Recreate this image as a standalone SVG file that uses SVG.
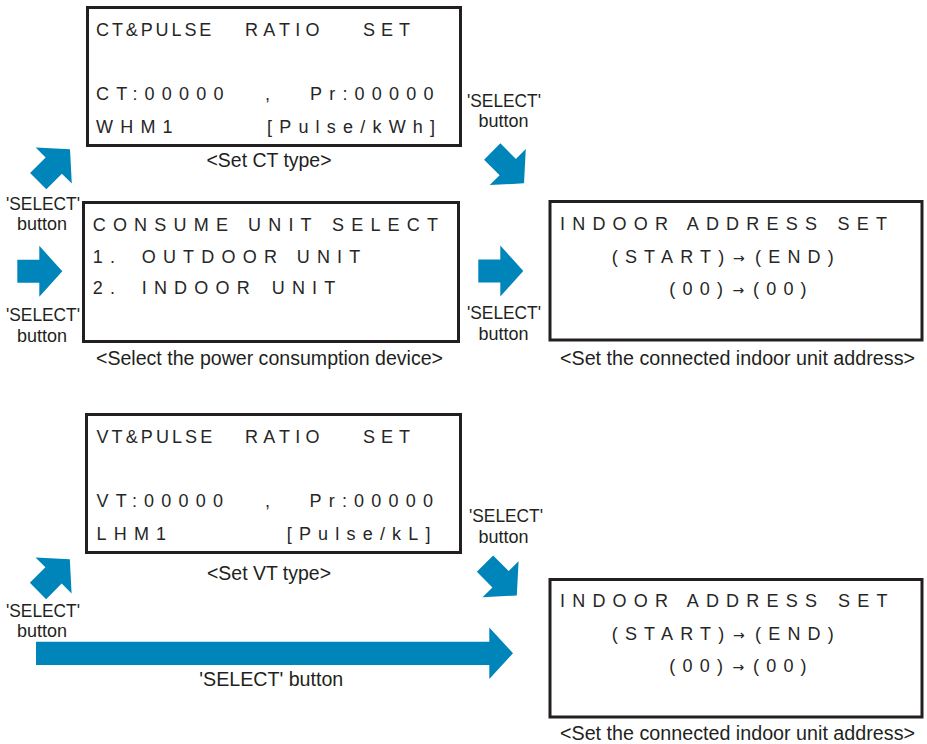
<svg xmlns="http://www.w3.org/2000/svg" xmlns:xlink="http://www.w3.org/1999/xlink" width="927" height="744" viewBox="0 0 927 744">
<style>
.box{fill:#fff;stroke:#231f20;stroke-width:3}
.lcd{font-family:"Liberation Sans",Arial,sans-serif;font-size:18px;fill:#262626;letter-spacing:7.2px}
.ar{font-family:"DejaVu Sans",sans-serif;font-size:14px;letter-spacing:0}
.lbl{font-family:"Liberation Sans",Arial,sans-serif;font-size:19px;fill:#231f20}
.cap{font-family:"Liberation Sans",Arial,sans-serif;font-size:20px;fill:#231f20}
.blue{fill:#0085ba}
</style>
<defs>
<path id="arr" d="M0,-11.5H22V-25.5L45,0L22,25.5V11.5H0Z"/>
</defs>
<rect width="927" height="744" fill="#fff"/>

<g id="ct-set">
<rect class="box" x="87.5" y="7.5" width="373" height="138"/>
<text class="lcd" y="35.7"><tspan x="96" style="letter-spacing:2.9px">CT&amp;PULSE</tspan> <tspan x="245" style="letter-spacing:5.2px">RATIO</tspan> <tspan x="363" style="letter-spacing:6px">SET</tspan></text>
<text class="lcd" y="100"><tspan x="96">CT:00000</tspan> <tspan x="265">,</tspan> <tspan x="310">Pr:00000</tspan></text>
<text class="lcd" y="133"><tspan x="96">WHM1</tspan> <tspan x="267">[Pulse/kWh]</tspan></text>
<text class="cap" x="206.5" y="167" textLength="125" lengthAdjust="spacingAndGlyphs">&lt;Set CT type&gt;</text>
</g>

<g id="consume-select">
<rect class="box" x="83.5" y="202.5" width="375" height="139"/>
<text class="lcd" y="231"><tspan x="92.7">CONSUME</tspan> <tspan x="248">UNIT</tspan> <tspan x="332">SELECT</tspan></text>
<text class="lcd" y="262.7"><tspan x="92.7">1.</tspan> <tspan x="141.7">OUTDOOR</tspan> <tspan x="296.7">UNIT</tspan></text>
<text class="lcd" y="294.3"><tspan x="92.7">2.</tspan> <tspan x="141.7">INDOOR</tspan> <tspan x="271.7">UNIT</tspan></text>
<text class="cap" x="96" y="365" textLength="347" lengthAdjust="spacingAndGlyphs">&lt;Select the power consumption device&gt;</text>
</g>

<g id="indoor-address-1">
<rect class="box" x="550" y="201.5" width="372" height="138.5"/>
<text class="lcd" y="230"><tspan x="560">INDOOR</tspan> <tspan x="686.7">ADDRESS</tspan> <tspan x="837.5">SET</tspan></text>
<text class="lcd" y="262.7"><tspan x="611.7">(START)</tspan><tspan x="733" class="ar">→</tspan><tspan x="755">(END)</tspan></text>
<text class="lcd" y="295"><tspan x="669.3">(00)</tspan><tspan x="732.5" class="ar">→</tspan><tspan x="753">(00)</tspan></text>
<text class="cap" x="560" y="365" textLength="355" lengthAdjust="spacingAndGlyphs">&lt;Set the connected indoor unit address&gt;</text>
</g>

<g id="vt-set">
<rect class="box" x="86.5" y="414.5" width="374" height="138"/>
<text class="lcd" y="443.3"><tspan x="96.5" style="letter-spacing:3.1px">VT&amp;PULSE</tspan> <tspan x="245" style="letter-spacing:5.2px">RATIO</tspan> <tspan x="363" style="letter-spacing:6px">SET</tspan></text>
<text class="lcd" y="507.3"><tspan x="96.5">VT:00000</tspan> <tspan x="265">,</tspan> <tspan x="309.5">Pr:00000</tspan></text>
<text class="lcd" y="540"><tspan x="96.5">LHM1</tspan> <tspan x="286.7">[Pulse/kL]</tspan></text>
<text class="cap" x="207" y="579.5" textLength="124" lengthAdjust="spacingAndGlyphs">&lt;Set VT type&gt;</text>
</g>

<g id="indoor-address-2">
<rect class="box" x="550" y="579.5" width="372" height="137.5"/>
<text class="lcd" y="606.7"><tspan x="560">INDOOR</tspan> <tspan x="686.7">ADDRESS</tspan> <tspan x="838">SET</tspan></text>
<text class="lcd" y="640"><tspan x="611.7">(START)</tspan><tspan x="733" class="ar">→</tspan><tspan x="755">(END)</tspan></text>
<text class="lcd" y="671.7"><tspan x="669.3">(00)</tspan><tspan x="732.5" class="ar">→</tspan><tspan x="753">(00)</tspan></text>
<text class="cap" x="560" y="740" textLength="355" lengthAdjust="spacingAndGlyphs">&lt;Set the connected indoor unit address&gt;</text>
</g>

<g id="connectors">
<use xlink:href="#arr" class="blue" transform="translate(38.2,181.1) rotate(-45)"/>
<use xlink:href="#arr" class="blue" transform="translate(17.3,271.3)"/>
<use xlink:href="#arr" class="blue" transform="translate(492.2,151.5) rotate(45)"/>
<use xlink:href="#arr" class="blue" transform="translate(478.3,271)"/>
<use xlink:href="#arr" class="blue" transform="translate(38,591) rotate(-45)"/>
<use xlink:href="#arr" class="blue" transform="translate(485,563.7) rotate(45)"/>
<path class="blue" d="M36,641.7H489.3V627.5L513,653.3L489.3,679V665H36Z"/>
<text class="lbl" x="6" y="210" textLength="74" lengthAdjust="spacingAndGlyphs">'SELECT'</text>
<text class="lbl" x="17" y="229.5" textLength="50" lengthAdjust="spacingAndGlyphs">button</text>
<text class="lbl" x="6" y="320.5" textLength="74" lengthAdjust="spacingAndGlyphs">'SELECT'</text>
<text class="lbl" x="17" y="341.5" textLength="50" lengthAdjust="spacingAndGlyphs">button</text>
<text class="lbl" x="467" y="106.5" textLength="74" lengthAdjust="spacingAndGlyphs">'SELECT'</text>
<text class="lbl" x="478.5" y="126.5" textLength="50" lengthAdjust="spacingAndGlyphs">button</text>
<text class="lbl" x="467" y="318.5" textLength="74" lengthAdjust="spacingAndGlyphs">'SELECT'</text>
<text class="lbl" x="478.5" y="339.5" textLength="50" lengthAdjust="spacingAndGlyphs">button</text>
<text class="lbl" x="469" y="521.5" textLength="74" lengthAdjust="spacingAndGlyphs">'SELECT'</text>
<text class="lbl" x="478.5" y="543" textLength="50" lengthAdjust="spacingAndGlyphs">button</text>
<text class="lbl" x="6" y="617" textLength="74" lengthAdjust="spacingAndGlyphs">'SELECT'</text>
<text class="lbl" x="17" y="636.5" textLength="50" lengthAdjust="spacingAndGlyphs">button</text>
<text class="cap" x="199.3" y="686" textLength="144" lengthAdjust="spacingAndGlyphs">'SELECT' button</text>
</g>
</svg>
